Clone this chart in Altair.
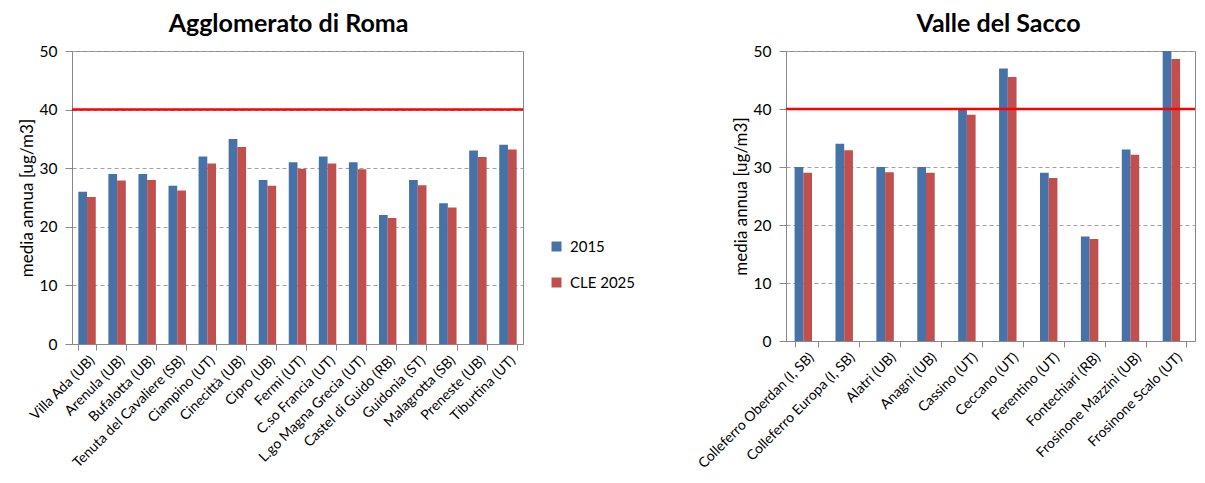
import altair as alt
import pandas as pd

series_names = ["2015", "CLE 2025"]

roma_stations = ["Villa Ada (UB)", "Arenula (UB)", "Bufalotta (UB)", "Tenuta del Cavaliere (SB)",
                 "Ciampino (UT)", "Cinecittà (UB)", "Cipro (UB)", "Fermi (UT)", "C.so Francia (UT)",
                 "L.go Magna Grecia (UT)", "Castel di Guido (RB)", "Guidonia (ST)", "Malagrotta (SB)",
                 "Preneste (UB)", "Tiburtina (UT)"]
roma_2015 = [26, 29, 29, 27, 32, 35, 28, 31, 32, 31, 22, 28, 24, 33, 34]
roma_2025 = [25.1, 27.9, 28.0, 26.2, 30.8, 33.6, 27.0, 29.9, 30.8, 29.8, 21.5, 27.1, 23.3, 31.9, 33.2]

sacco_stations = ["Colleferro Oberdan (I, SB)", "Colleferro Europa (I, SB)", "Alatri (UB)", "Anagni (UB)",
                  "Cassino (UT)", "Ceccano (UT)", "Ferentino (UT)", "Fontechiari (RB)",
                  "Frosinone Mazzini (UB)", "Frosinone Scalo (UT)"]
sacco_2015 = [30, 34, 30, 30, 40, 47, 29, 18, 33, 50]
sacco_2025 = [29.0, 32.9, 29.1, 29.0, 39.0, 45.5, 28.1, 17.6, 32.1, 48.6]

limit_value = [40]

FONT = "Lato"
BLUE = "#4672A8"
RED = "#C0504D"


def long_df(stations, a, b):
    rows = []
    for s, v1, v2 in zip(stations, a, b):
        rows.append({"station": s, "serie": series_names[0], "value": v1})
        rows.append({"station": s, "serie": series_names[1], "value": v2})
    return pd.DataFrame(rows)


def panel(stations, a, b, title, width, height, show_legend, title_dx):
    df = long_df(stations, a, b)
    if show_legend:
        legend = alt.Legend(title=None, orient="none", legendX=width + 26, legendY=188,
                            symbolType="square", symbolSize=100, symbolStrokeWidth=0,
                            labelFont=FONT, labelFontSize=15, labelColor="#000000",
                            rowPadding=20, labelOffset=6)
    else:
        legend = None
    bars = alt.Chart(df).mark_bar(stroke=None).encode(
        x=alt.X("station:N", sort=stations, title=None,
                scale=alt.Scale(paddingInner=0.42, paddingOuter=0.21),
                axis=alt.Axis(labelAngle=-45, tickBand="extent", labelFont=FONT, labelFontSize=14,
                              labelColor="#000000", domainColor="#888888", tickColor="#888888",
                              tickSize=6, labelPadding=3, labelLimit=300)),
        xOffset=alt.XOffset("serie:N", sort=series_names),
        y=alt.Y("value:Q", title="media annua [ug/m3]",
                scale=alt.Scale(domain=[0, 50], nice=False, clamp=True),
                axis=alt.Axis(values=[0, 10, 20, 30, 40, 50], grid=True, gridDash=[4, 3],
                              gridColor="#A0A0A0", domainColor="#888888", tickColor="#888888",
                              tickSize=7, labelFont=FONT, labelFontSize=15.5, labelColor="#000000",
                              labelPadding=8, titleFont=FONT, titleFontSize=17,
                              titleFontWeight="normal", titleColor="#000000", titlePadding=3)),
        color=alt.Color("serie:N", sort=series_names,
                        scale=alt.Scale(domain=series_names, range=[BLUE, RED]),
                        legend=legend),
    )
    rule = alt.Chart(pd.DataFrame({"limit": limit_value})).mark_rule(
        color="#FF0000", strokeWidth=2.5).encode(y="limit:Q")
    return alt.layer(bars, rule).properties(
        width=width, height=height,
        title=alt.TitleParams(title, font=FONT, fontSize=25, fontWeight="bold",
                              color="#000000", anchor="middle", offset=7, dx=title_dx),
    )


left = panel(roma_stations, roma_2015, roma_2025, "Agglomerato di Roma", 451, 293, True, -9)
right = panel(sacco_stations, sacco_2015, sacco_2025, "Valle del Sacco", 409, 290, False, 8)

chart = alt.hconcat(left, right, spacing=58).resolve_legend(color="independent").properties(
    padding={"left": 9, "top": 3, "right": 0, "bottom": 0}
).configure_view(stroke="#888888", strokeWidth=1)

chart.save("out.html", embed_options={"renderer": "svg", "actions": False})
